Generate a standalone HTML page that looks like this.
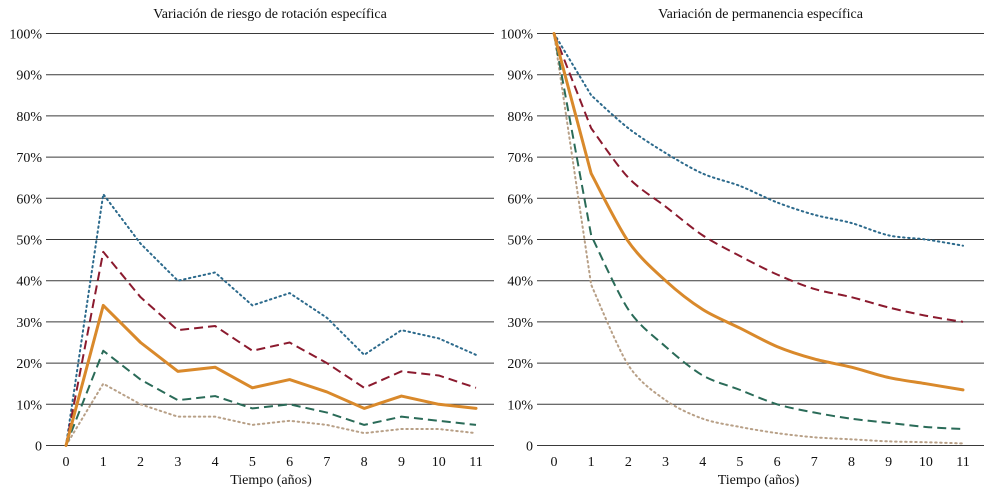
<!DOCTYPE html>
<html><head><meta charset="utf-8"><style>
html,body{margin:0;padding:0;background:#fff;}
svg{display:block;font-family:"Liberation Serif",serif;}
</style></head><body>
<svg id="c" width="996" height="492"></svg>
<script>
const years=[0,1,2,3,4,5,6,7,8,9,10,11];
const yTicks=[0,10,20,30,40,50,60,70,80,90,100];
const yTickLabels=["0","10%","20%","30%","40%","50%","60%","70%","80%","90%","100%"];
const leftBlue=[0,61,49,40,42,34,37,31,22,28,26,22];
const leftRed=[0,47,36,28,29,23,25,20,14,18,17,14];
const leftOrange=[0,34,25,18,19,14,16,13,9,12,10,9];
const leftGreen=[0,23,16,11,12,9,10,8,5,7,6,5];
const leftTan=[0,15,10,7,7,5,6,5,3,4,4,3];
const rightBlue=[100,85,77,71,66,63,59,56,54,51,50,48.5];
const rightRed=[100,77,65,58,51,46,41.5,38,36,33.5,31.5,30];
const rightOrange=[100,66,49.5,40,33,28.5,24,21,19,16.5,15,13.5];
const rightGreen=[100,51,33,24,17,13.5,10,8,6.5,5.5,4.5,4];
const rightTan=[100,39,19.5,11,6.5,4.5,3,2,1.5,1,0.8,0.5];

const svg=document.getElementById('c');
const NS="http://www.w3.org/2000/svg";
function mk(tag,attrs,parent){const e=document.createElementNS(NS,tag);for(const k in attrs)e.setAttribute(k,attrs[k]);(parent||svg).appendChild(e);return e;}
const styles={
 blue:{stroke:"#2c6a8c",w:2,dash:"1.5 3.5",cap:"round"},
 red:{stroke:"#8b1a2e",w:2,dash:"9 5",cap:"butt"},
 orange:{stroke:"#d9892b",w:3,dash:"",cap:"round"},
 green:{stroke:"#2a6b58",w:2,dash:"9 5",cap:"butt"},
 tan:{stroke:"#b8a087",w:2,dash:"1.5 3.5",cap:"round"}
};
function pathD(pts,smooth){
 if(!smooth) return "M"+pts.map(p=>p[0]+","+p[1]).join(" L");
 let d="M"+pts[0][0]+","+pts[0][1]+" L"+pts[1][0]+","+pts[1][1];
 for(let i=1;i<pts.length-1;i++){
  const p0=pts[Math.max(1,i-1)],p1=pts[i],p2=pts[i+1],p3=pts[Math.min(pts.length-1,i+2)];
  const t=0.15;
  const c1=[p1[0]+(p2[0]-p0[0])*t,p1[1]+(p2[1]-p0[1])*t];
  const c2=[p2[0]-(p3[0]-p1[0])*t,p2[1]-(p3[1]-p1[1])*t];
  d+=" C"+c1[0]+","+c1[1]+" "+c2[0]+","+c2[1]+" "+p2[0]+","+p2[1];
 }
 return d;
}
function panel(name,gx0,gx1,x0,x11,title,series,smooth){
 const g=mk('g',{});
 
 
 const yS=v=>445.5-v*4.12;
 const xS=t=>x0+(x11-x0)*t/11;
 yTicks.forEach((v,i)=>{
  const l=mk('line',{x1:gx0,x2:gx1,y1:yS(v),y2:yS(v),stroke:"#3a3a3a","stroke-width":1},g);
  
  
  const t=mk('text',{x:gx0-4,y:yS(v)+5,"text-anchor":"end","font-size":14,fill:"#111"},g);
  t.textContent=yTickLabels[i];
  
  
 });
 years.forEach(t=>{
  const e=mk('text',{x:xS(t),y:466,"text-anchor":"middle","font-size":14,fill:"#111"},g);
  e.textContent=String(t);
  
  
 });
 const tt=mk('text',{x:(gx0+gx1)/2,y:18,"text-anchor":"middle","font-size":14,fill:"#111"},g);
 tt.textContent=title;
 
 
 const xt=mk('text',{x:(x0+x11)/2,y:484,"text-anchor":"middle","font-size":14,fill:"#111"},g);
 xt.textContent="Tiempo (años)";
 
 
 series.forEach(([key,vals])=>{
  const s=styles[key];
  const pts=vals.map((v,i)=>[xS(years[i]),yS(v)]);
  const p=mk('path',{d:pathD(pts,smooth),fill:"none",stroke:s.stroke,"stroke-width":s.w,"stroke-dasharray":s.dash,"stroke-linecap":s.cap,"stroke-linejoin":"round"},g);
  
  
 });
}
panel('left-panel',46,494,66,476,"Variación de riesgo de rotación específica",
 [["tan",leftTan],["green",leftGreen],["blue",leftBlue],["red",leftRed],["orange",leftOrange]],false);
panel('right-panel',537,984,554,963,"Variación de permanencia específica",
 [["tan",rightTan],["green",rightGreen],["blue",rightBlue],["red",rightRed],["orange",rightOrange]],true);
</script>
</body></html>
